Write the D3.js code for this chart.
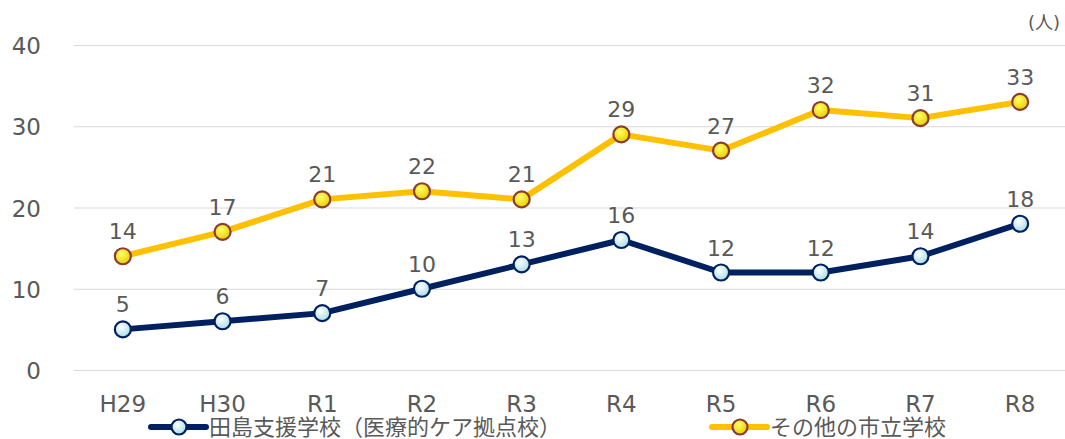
<!DOCTYPE html>
<html><head><meta charset="utf-8">
<script src="https://cdn.jsdelivr.net/npm/d3@7"></script>
<style>
body{margin:0;background:#fff;}
text{font-family:"DejaVu Sans","Noto Sans CJK JP",sans-serif;fill:#595959;}
</style></head>
<body><svg id="c" width="1065" height="439"></svg>
<script>
const categories = ["H29","H30","R1","R2","R3","R4","R5","R6","R7","R8"];
const tajima = [5,6,7,10,13,16,12,12,14,18];
const others = [14,17,21,22,21,29,27,32,31,33];
const yTicks = [0,10,20,30,40];
const seriesNames = ["田島支援学校（医療的ケア拠点校）","その他の市立学校"];
const unitLabel = "(人)";

const svg = d3.select("#c");
const x = d3.scaleBand().domain(categories).range([73,1070]);
const y = d3.scaleLinear().domain([0,40]).range([370,45]);

const defs = svg.append("defs");
const g1 = defs.append("radialGradient").attr("id","gBlue").attr("cx","40%").attr("cy","35%").attr("r","65%");
g1.append("stop").attr("offset","0%").attr("stop-color","#ffffff");
g1.append("stop").attr("offset","100%").attr("stop-color","#a9dde6");
const g2 = defs.append("radialGradient").attr("id","gYel").attr("cx","40%").attr("cy","35%").attr("r","65%");
g2.append("stop").attr("offset","0%").attr("stop-color","#ffff66");
g2.append("stop").attr("offset","100%").attr("stop-color","#e8d000");

// grid
svg.append("g").selectAll("line").data(yTicks).join("line")
  .attr("x1",74).attr("x2",1065)
  .attr("y1",d=>y(d)+0.5).attr("y2",d=>y(d)+0.5)
  .attr("stroke","#d9d9d9").attr("stroke-width",1);

svg.append("g").selectAll("text").data(yTicks).join("text")
  .attr("x",41).attr("y",d=>y(d)+9).attr("text-anchor","end")
  .attr("font-size",23).text(d=>d);

svg.append("g").selectAll("text").data(categories).join("text")
  .attr("x",d=>x(d)+x.bandwidth()/2).attr("y",412).attr("text-anchor","middle")
  .attr("font-size",23).text(d=>d);

svg.append("text").attr("x",1060).attr("y",29).attr("text-anchor","end")
  .attr("font-size",18).text(unitLabel);

const series = [
  {vals:others, color:"#FFC000", fill:"url(#gYel)", stroke:"#8c3b2e"},
  {vals:tajima, color:"#002060", fill:"url(#gBlue)", stroke:"#002060"}
];
const line = d3.line().x((d,i)=>x(categories[i])+x.bandwidth()/2).y(d=>y(d));
series.forEach(s=>{
  svg.append("path").datum(s.vals).attr("d",line).attr("fill","none")
    .attr("stroke",s.color).attr("stroke-width",6).attr("stroke-linejoin","round");
  svg.append("g").selectAll("circle").data(s.vals).join("circle")
    .attr("cx",(d,i)=>x(categories[i])+x.bandwidth()/2).attr("cy",d=>y(d)).attr("r",8)
    .attr("fill",s.fill).attr("stroke",s.stroke).attr("stroke-width",2.2);
  svg.append("g").selectAll("text").data(s.vals).join("text")
    .attr("x",(d,i)=>x(categories[i])+x.bandwidth()/2).attr("y",d=>y(d)-17)
    .attr("text-anchor","middle").attr("font-size",22).text(d=>d);
});

// legend
const leg = [
  {name:seriesNames[0], x0:151, color:"#002060", fill:"url(#gBlue)", stroke:"#002060"},
  {name:seriesNames[1], x0:712, color:"#FFC000", fill:"url(#gYel)", stroke:"#8c3b2e"}
];
leg.forEach(l=>{
  const gy = 427;
  svg.append("line").attr("x1",l.x0).attr("x2",l.x0+55).attr("y1",gy).attr("y2",gy)
    .attr("stroke",l.color).attr("stroke-width",6).attr("stroke-linecap","round");
  svg.append("circle").attr("cx",l.x0+28).attr("cy",gy).attr("r",7.5)
    .attr("fill",l.fill).attr("stroke",l.stroke).attr("stroke-width",2.2);
  svg.append("text").attr("x",l.x0+58).attr("y",gy+8).attr("font-size",22).text(l.name);
});
</script></body></html>
